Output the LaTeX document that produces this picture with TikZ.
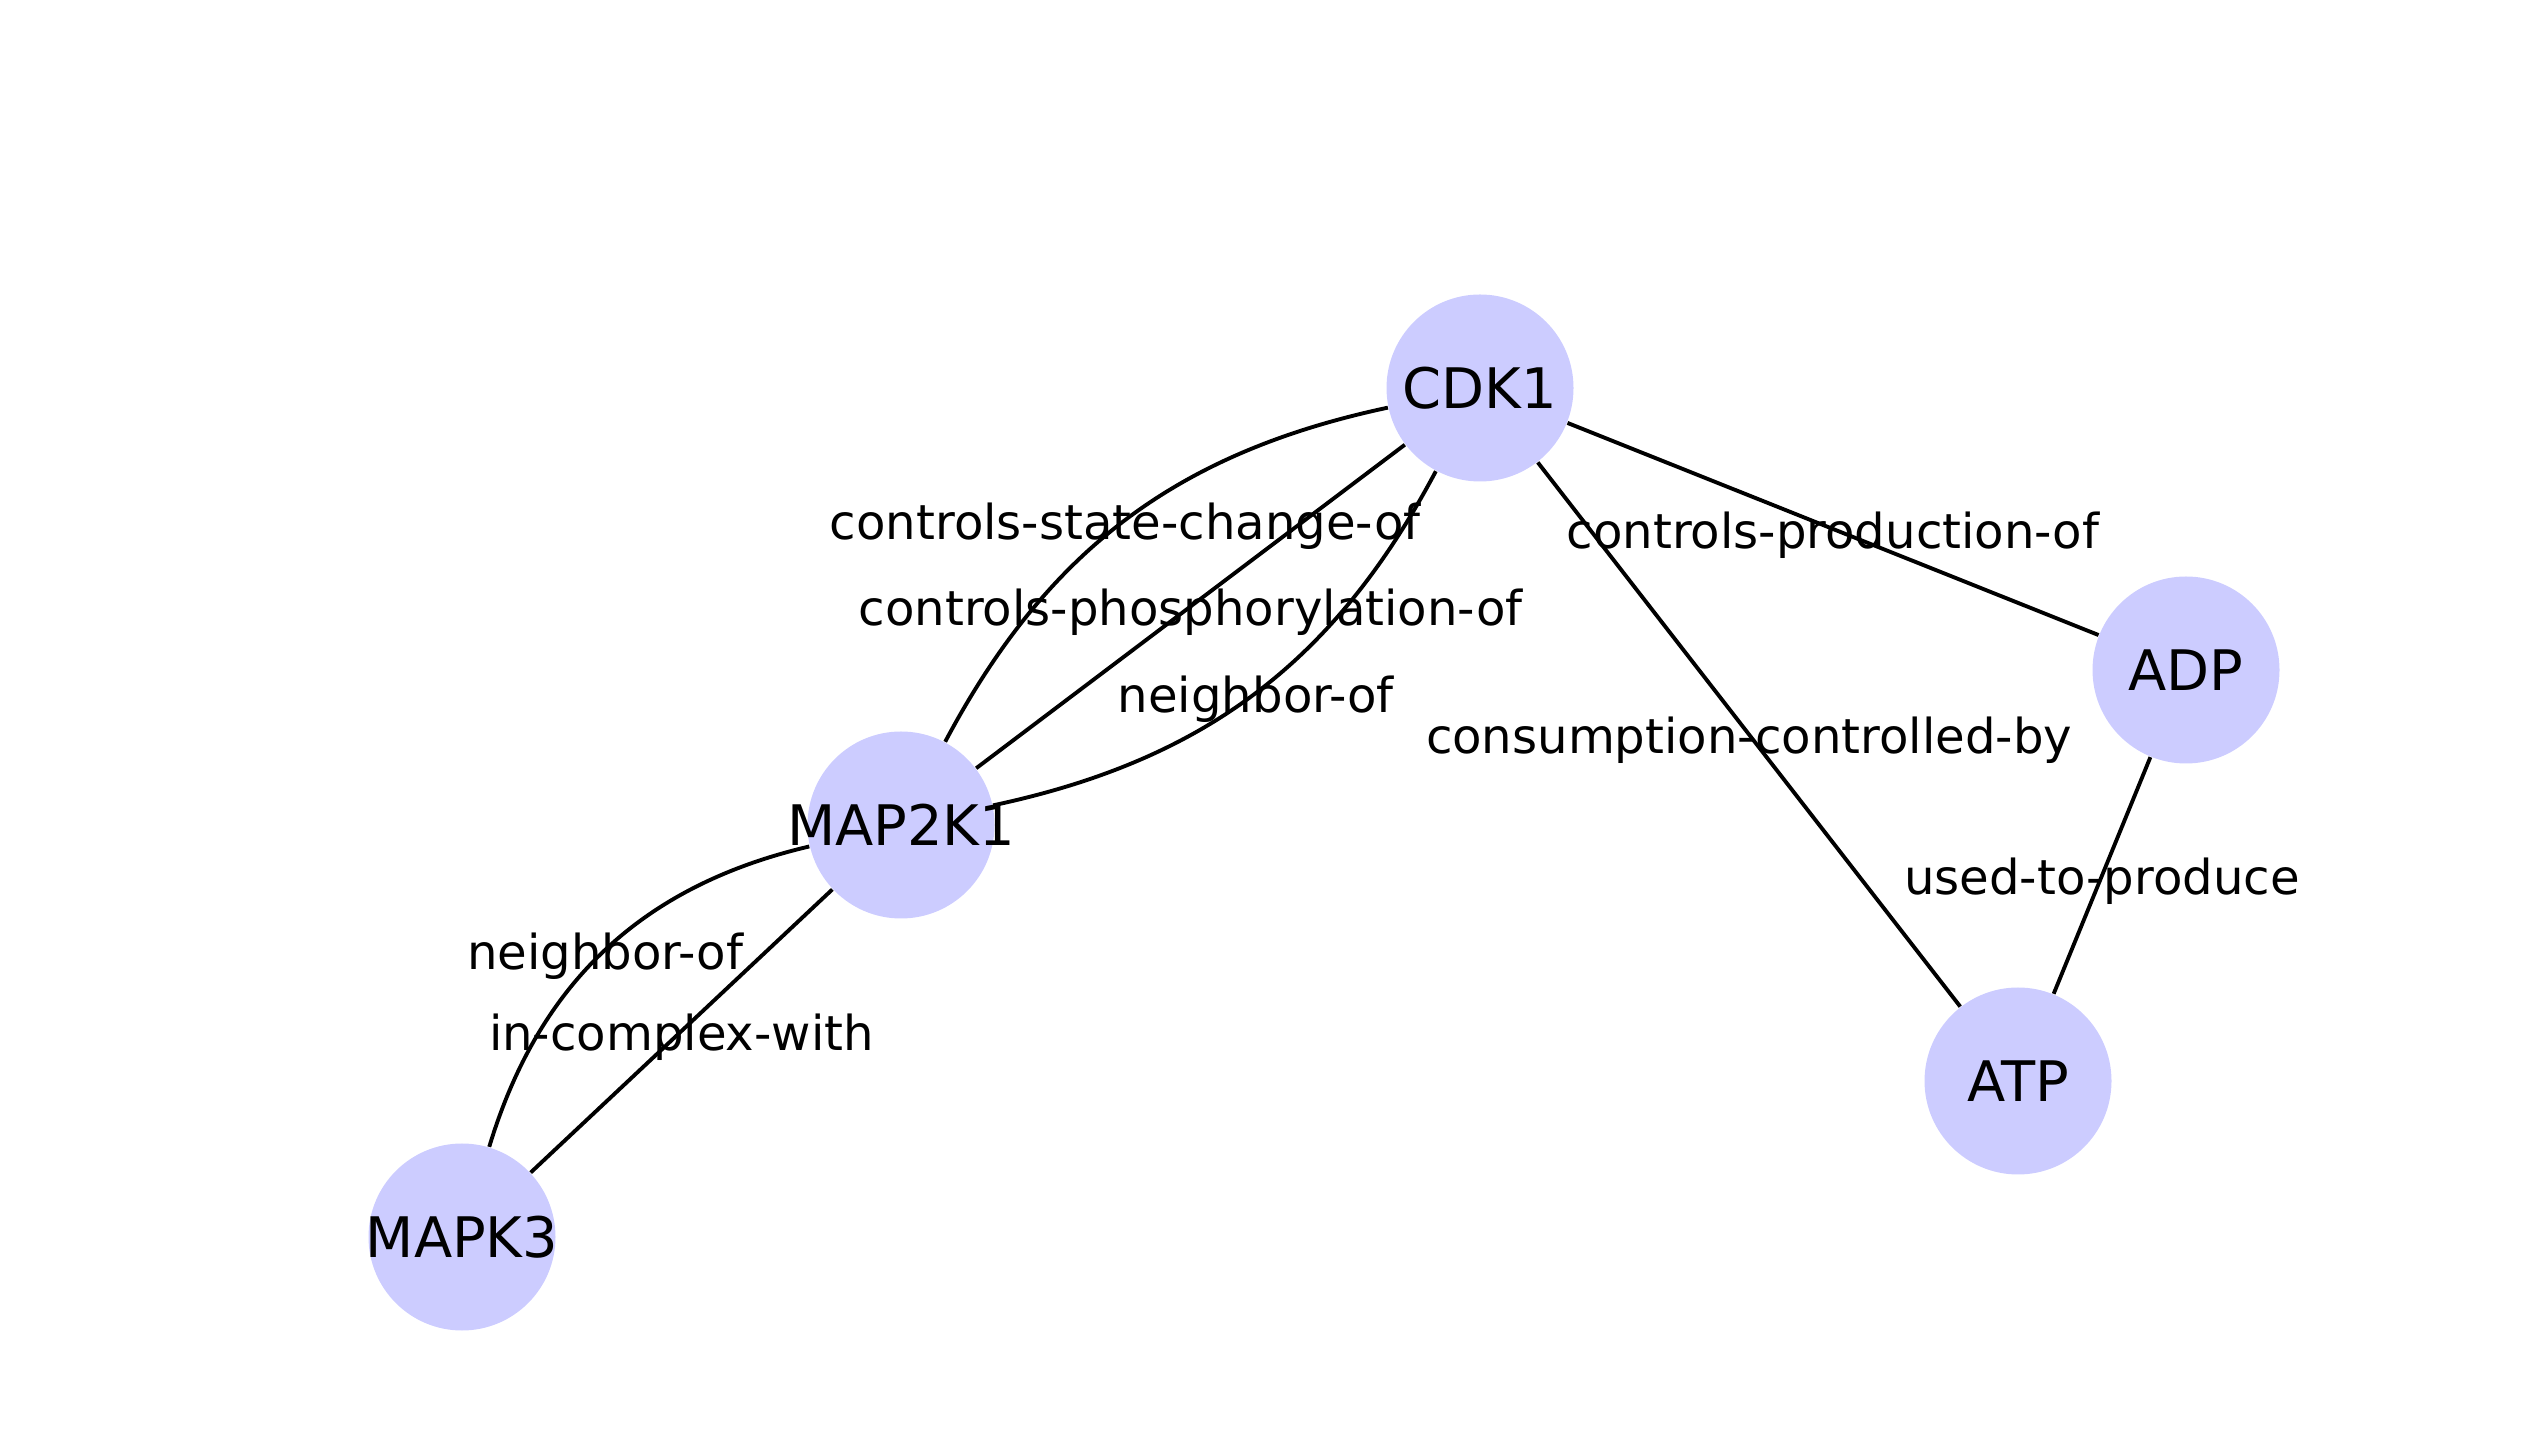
\documentclass[tikz,border=0pt]{standalone}
\usepackage{fontspec}
\setmainfont{DejaVu Sans}
\definecolor{protfill}{HTML}{CCCCFF}
\begin{document}
\begin{tikzpicture}[
        protein/.style={circle, fill=protfill, minimum size=1.87cm, inner sep=0pt},
        rel/.style={line width=1.1pt},
        lbl/.style={font=\fontsize{13.7}{16}\selectfont, inner sep=0pt, yshift=-0.06cm},
        every label/.style={font=\fontsize{15.9}{18}\selectfont, inner sep=0pt}]
            \useasboundingbox (0,0) rectangle (25.32,14.52);
            \node[protein, label=center:CDK1] (cdk1) at (14.80,10.64) {};
            \node[protein, label=center:MAP2K1] (map2k1) at (9.01,6.27) {};
            \node[protein, label=center:MAPK3] (mapk3) at (4.62,2.15) {};
            \node[protein, label=center:ADP] (adp) at (21.86,7.82) {};
            \node[protein, label=center:ATP] (atp) at (20.18,3.71) {};
            \draw[rel] (map2k1) to[bend left=25] node[lbl] {controls-state-change-of} (cdk1);
            \draw[rel] (map2k1) -- node[lbl] {controls-phosphorylation-of} (cdk1);
            \draw[rel] (map2k1) to[bend right=25] node[lbl] {neighbor-of} (cdk1);
            \draw[rel] (mapk3) to[bend left=30] node[lbl] {neighbor-of} (map2k1);
            \draw[rel] (mapk3) -- node[lbl] {in-complex-with} (map2k1);
            \draw[rel] (cdk1) -- node[lbl] {controls-production-of} (adp);
            \draw[rel] (cdk1) -- node[lbl] {consumption-controlled-by} (atp);
            \draw[rel] (adp) -- node[lbl] {used-to-produce} (atp);
        \end{tikzpicture}
\end{document}
